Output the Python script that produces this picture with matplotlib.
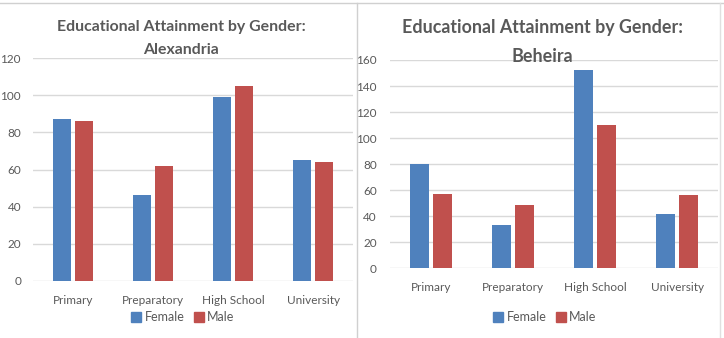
import matplotlib
matplotlib.use("Agg")
import matplotlib.pyplot as plt
from matplotlib.lines import Line2D
import numpy as np

plt.rcParams['font.family'] = ['Lato', 'DejaVu Sans']

categories = ["Primary", "Preparatory", "High School", "University"]
alex_female = [87, 46, 99, 65]
alex_male = [86, 62, 105, 64]
beh_female = [80, 33, 152, 42]
beh_male = [57, 49, 110, 56]
series_names = ["Female", "Male"]

BLUE = "#4F81BD"
RED = "#C0504D"
TXT = "#595959"
GRID = "#D9D9D9"

W, H = 724, 338
fig = plt.figure(figsize=(W / 100, H / 100), dpi=100)

def px_axes(x0, x1, ytop, ybot):
    return fig.add_axes([x0 / W, 1 - ybot / H, (x1 - x0) / W, (ybot - ytop) / H])

def draw(ax, fem, mal, ymax, step, bw, gap, lab_pad):
    x = np.arange(len(categories))
    ax.bar(x - (bw + gap) / 2, fem, bw, color=BLUE, zorder=3)
    ax.bar(x + (bw + gap) / 2, mal, bw, color=RED, zorder=3)
    ax.set_xlim(-0.5, len(categories) - 0.5)
    ax.set_ylim(0, ymax)
    ax.set_yticks(np.arange(0, ymax + 1, step))
    ax.yaxis.grid(True, color=GRID, linewidth=1, zorder=0)
    for s in ax.spines.values():
        s.set_visible(False)
    ax.tick_params(axis='both', length=0, colors=TXT, labelsize=8.5)
    ax.tick_params(axis='y', pad=lab_pad)
    ax.set_xticks(x)
    ax.set_xticklabels(categories)
    ax.set_facecolor('none')

ax1 = px_axes(33, 353, 58.3, 280.7)
draw(ax1, alex_female, alex_male, 120, 20, 0.22, 0.06, 8.6)
ax1.tick_params(axis='x', pad=10)

ax2 = px_axes(390, 718, 60, 268.3)
draw(ax2, beh_female, beh_male, 160, 20, 0.23, 0.06, 9.4)
ax2.tick_params(axis='x', pad=10)

fig.text(181 / W, 1 - 27 / H, "Educational Attainment by Gender:", ha='center', va='center',
         fontsize=11.4, fontweight='bold', color=TXT)
fig.text(181 / W, 1 - 50 / H, "Alexandria", ha='center', va='center',
         fontsize=11.4, fontweight='bold', color=TXT)
fig.text(542 / W, 1 - 28 / H, "Educational Attainment by Gender:", ha='center', va='center',
         fontsize=12.9, fontweight='bold', color=TXT)
fig.text(542 / W, 1 - 57 / H, "Beheira", ha='center', va='center',
         fontsize=12.9, fontweight='bold', color=TXT)

handles = [Line2D([], [], marker='s', linestyle='none', markersize=6.5, color=c) for c in (BLUE, RED)]
for cx in (183, 545):
    fig.legend(handles, series_names, loc='center', bbox_to_anchor=(cx / W, 1 - 317 / H),
               ncol=2, frameon=False, fontsize=9, labelcolor=TXT, handletextpad=0.3,
               columnspacing=0.7, handlelength=0.8)

# panel borders
fig.add_artist(Line2D([0, 1], [1 - 2.5 / H, 1 - 2.5 / H], color="#D0D0D0", linewidth=1))
fig.add_artist(Line2D([357 / W, 357 / W], [0, 1 - 2.5 / H], color="#D0D0D0", linewidth=1))
fig.add_artist(Line2D([720 / W, 720 / W], [0, 1 - 2.5 / H], color="#E0E0E0", linewidth=1))

fig.savefig("out.png", dpi=100, facecolor='white')
